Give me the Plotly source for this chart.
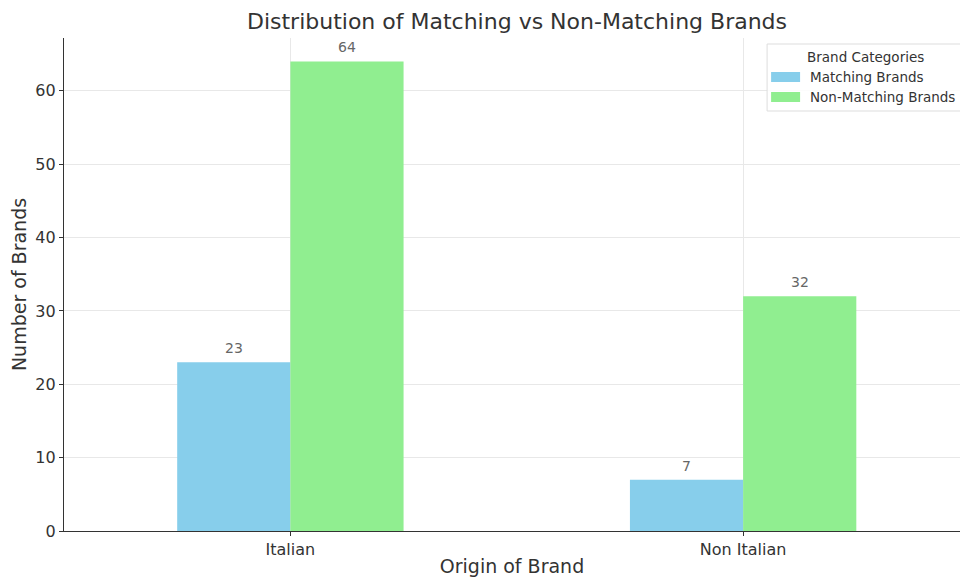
import plotly.graph_objects as go

# Brand counts by origin
origins = ["Italian", "Non Italian"]
matching = [23, 7]
non_matching = [64, 32]
series_names = ["Matching Brands", "Non-Matching Brands"]
series_colors = ["#87CEEB", "#90EE90"]
legend_title = "Brand Categories"

positions = list(range(len(origins)))
bar_w = 0.25
font_family = "DejaVu Sans, Verdana, sans-serif"
text_color = "#333333"

W, H = 960, 577
M_L, M_R, M_T, M_B = 63.5, 0, 38, 46
plot_w = W - M_L - M_R
plot_h = H - M_T - M_B


def px_x(px):
    """Pixel column -> paper x."""
    return (px - M_L) / plot_w


def px_y(py):
    """Pixel row (from top) -> paper y."""
    return (H - M_B - py) / plot_h


fig = go.Figure()
for name, vals, color, off in zip(series_names, [matching, non_matching],
                                  series_colors, [-bar_w, 0.0]):
    fig.add_trace(go.Bar(
        x=positions, y=vals, name=name, width=bar_w, offset=off,
        marker=dict(color=color, line=dict(width=0)),
        showlegend=False,
    ))
    for p, v in zip(positions, vals):
        fig.add_annotation(
            x=p + off + bar_w / 2, y=v, text=str(v), showarrow=False,
            yanchor="bottom", yshift=4,
            font=dict(family=font_family, size=14, color="#666666"),
        )

# Legend box drawn in the upper-right corner
fig.add_shape(type="rect", xref="paper", yref="paper",
              x0=px_x(767), x1=px_x(975), y0=px_y(111), y1=px_y(44),
              fillcolor="rgba(255,255,255,0.85)",
              line=dict(color="#dddddd", width=1), layer="above")
fig.add_annotation(xref="paper", yref="paper", x=px_x(865), y=px_y(57),
                   text=legend_title, showarrow=False, xanchor="center",
                   yanchor="middle",
                   font=dict(family=font_family, size=13.5, color=text_color))
for i, (name, color) in enumerate(zip(series_names, series_colors)):
    cy = 77 + 20 * i
    fig.add_shape(type="rect", xref="paper", yref="paper",
                  x0=px_x(771), x1=px_x(800), y0=px_y(cy + 5), y1=px_y(cy - 5),
                  fillcolor=color, line=dict(width=0), layer="above")
    fig.add_annotation(xref="paper", yref="paper", x=px_x(808), y=px_y(cy),
                       text=name, showarrow=False, xanchor="left",
                       yanchor="middle",
                       font=dict(family=font_family, size=13.5, color=text_color))

fig.update_layout(
    width=W, height=H,
    margin=dict(l=M_L, r=M_R, t=M_T, b=M_B),
    paper_bgcolor="white", plot_bgcolor="white",
    barmode="overlay",
    font=dict(family=font_family, color=text_color),
    title=dict(
        text="Distribution of Matching vs Non-Matching Brands",
        x=517 / W, xref="container", xanchor="center",
        y=1 - 21 / H, yref="container", yanchor="middle",
        font=dict(size=22, color=text_color),
    ),
    showlegend=False,
)

fig.update_xaxes(
    range=[-0.5, 1.479], tickmode="array", tickvals=positions, ticktext=origins,
    showline=True, linecolor=text_color, linewidth=1.2,
    ticks="outside", ticklen=4, tickcolor=text_color,
    showgrid=True, gridcolor="#e8e8e8", gridwidth=1,
    tickfont=dict(size=16, color=text_color),
    title=dict(text="Origin of Brand", font=dict(size=19, color=text_color), standoff=4),
    zeroline=False,
)
fig.update_yaxes(
    range=[0, 67.2], tickvals=[0, 10, 20, 30, 40, 50, 60],
    showline=True, linecolor=text_color, linewidth=1.2,
    ticks="outside", ticklen=4, tickcolor=text_color,
    showgrid=True, gridcolor="#e8e8e8", gridwidth=1,
    tickfont=dict(size=16, color=text_color),
    title=dict(text="Number of Brands", font=dict(size=19, color=text_color), standoff=3),
    zeroline=False,
)

fig.write_html("out.html")
